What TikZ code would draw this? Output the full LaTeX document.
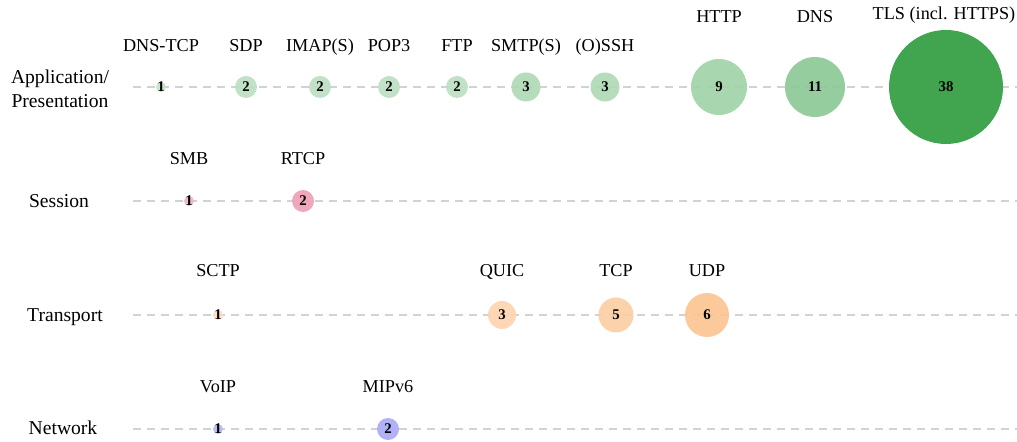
\documentclass[tikz,border=0pt]{standalone}
\usepackage{fontspec}
\setmainfont{Liberation Serif}
\usetikzlibrary{positioning}
\definecolor{appgreen}{RGB}{65,165,80}
\definecolor{sesspink}{RGB}{225,80,120}
\definecolor{tranorange}{RGB}{250,160,80}
\definecolor{netblue}{RGB}{100,100,240}

\begin{document}
\begin{tikzpicture}[
  x=0.5pt, y=-0.5pt,
  layer/.style={
    font=\fontsize{9.8}{11.8}\selectfont,
    align=center, inner sep=0pt,
  },
  proto/.style={
    font=\fontsize{9.1}{11}\selectfont,
    anchor=base, inner sep=0pt,
  },
  bubble/.style={
    circle, inner sep=0pt,
    fill opacity=0.92,
  },
  count/.style={
    font=\fontsize{7.4}{8}\selectfont\bfseries,
    inner sep=0pt, text=black,
  },
  guide/.style={
    draw=gray!35, line width=0.75pt,
    dash pattern=on 4pt off 3pt,
  },
]
\useasboundingbox (0,0) rectangle (1017,442);

% ── Rows: layer names and guide lines
\node[layer] (appLayer) at (60,89) {Application/\\Presentation};
\node[layer, anchor=base] (sessLayer) at (59,208) {Session};
\node[layer, anchor=base] (tranLayer) at (65,322) {Transport};
\node[layer, anchor=base] (netLayer) at (63,435) {Network};

\coordinate (appStart) at (133,87);   \coordinate (appEnd) at (1017,87);
\coordinate (sessStart) at (133,201); \coordinate (sessEnd) at (1017,201);
\coordinate (tranStart) at (133,315); \coordinate (tranEnd) at (1017,315);
\coordinate (netStart) at (133,429);  \coordinate (netEnd) at (1017,429);

\draw[guide] (appStart) -- (appEnd);
\draw[guide] (sessStart) -- (sessEnd);
\draw[guide] (tranStart) -- (tranEnd);
\draw[guide] (netStart) -- (netEnd);

% ── Application/Presentation row
\node[bubble, minimum size=5pt, fill=appgreen!30,
      label={[count]center:1}] (dnstcp) at (161,87) {};
\node[bubble, minimum size=11pt, fill=appgreen!35,
      label={[count]center:2}] (sdp) at (246,87) {};
\node[bubble, minimum size=11pt, fill=appgreen!35,
      label={[count]center:2}] (imap) at (320,87) {};
\node[bubble, minimum size=11pt, fill=appgreen!35,
      label={[count]center:2}] (pop) at (389,87) {};
\node[bubble, minimum size=11pt, fill=appgreen!35,
      label={[count]center:2}] (ftp) at (457,87) {};
\node[bubble, minimum size=14.5pt, fill=appgreen!42,
      label={[count]center:3}] (smtp) at (526,87) {};
\node[bubble, minimum size=14.5pt, fill=appgreen!42,
      label={[count]center:3}] (ossh) at (605,87) {};
\node[bubble, minimum size=28pt, fill=appgreen!50,
      label={[count]center:9}] (http) at (719,87) {};
\node[bubble, minimum size=30pt, fill=appgreen!60,
      label={[count]center:11}] (dns) at (815,87) {};
\node[bubble, minimum size=57pt, fill=appgreen, fill opacity=1,
      label={[count]center:38}] (tls) at (946,87) {};

\coordinate (appTxt) at (0,52);
\coordinate (appTxtHigh) at (0,23);
\node[proto] (dnstcpName) at (dnstcp |- appTxt) {DNS-TCP};
\node[proto] (sdpName) at (sdp |- appTxt) {SDP};
\node[proto] (imapName) at (imap |- appTxt) {IMAP(S)};
\node[proto] (popName) at (pop |- appTxt) {POP3};
\node[proto] (ftpName) at (ftp |- appTxt) {FTP};
\node[proto] (smtpName) at (smtp |- appTxt) {SMTP(S)};
\node[proto] (osshName) at (ossh |- appTxt) {(O)SSH};
\node[proto] (httpName) at (http |- appTxtHigh) {HTTP};
\node[proto] (dnsName) at (dns |- appTxtHigh) {DNS};
\node[proto] (tlsName) at (944,20) {TLS (incl. HTTPS)};

% ── Session row
\node[bubble, minimum size=5pt, fill=sesspink!42,
      label={[count]center:1}] (smb) at (189,201) {};
\node[bubble, minimum size=11pt, fill=sesspink!55,
      label={[count]center:2}] (rtcp) at (303,201) {};

\coordinate (sessTxt) at (0,165);
\node[proto] (smbName) at (smb |- sessTxt) {SMB};
\node[proto] (rtcpName) at (rtcp |- sessTxt) {RTCP};

% ── Transport row
\node[bubble, minimum size=5pt, fill=tranorange!35,
      label={[count]center:1}] (sctp) at (218,315) {};
\node[bubble, minimum size=14pt, fill=tranorange!45,
      label={[count]center:3}] (quic) at (502,315) {};
\node[bubble, minimum size=17.5pt, fill=tranorange!52,
      label={[count]center:5}] (tcp) at (616,315) {};
\node[bubble, minimum size=22pt, fill=tranorange!62,
      label={[count]center:6}] (udp) at (707,315) {};

\coordinate (tranTxt) at (0,277);
\node[proto] (sctpName) at (sctp |- tranTxt) {SCTP};
\node[proto] (quicName) at (quic |- tranTxt) {QUIC};
\node[proto] (tcpName) at (tcp |- tranTxt) {TCP};
\node[proto] (udpName) at (udp |- tranTxt) {UDP};

% ── Network row
\node[bubble, minimum size=5pt, fill=netblue!45,
      label={[count]center:1}] (voip) at (218,429) {};
\node[bubble, minimum size=11pt, fill=netblue!55,
      label={[count]center:2}] (mipv) at (388,429) {};

\coordinate (netTxt) at (0,393);
\node[proto] (voipName) at (voip |- netTxt) {VoIP};
\node[proto] (mipvName) at (mipv |- netTxt) {MIPv6};

\end{tikzpicture}
\end{document}
